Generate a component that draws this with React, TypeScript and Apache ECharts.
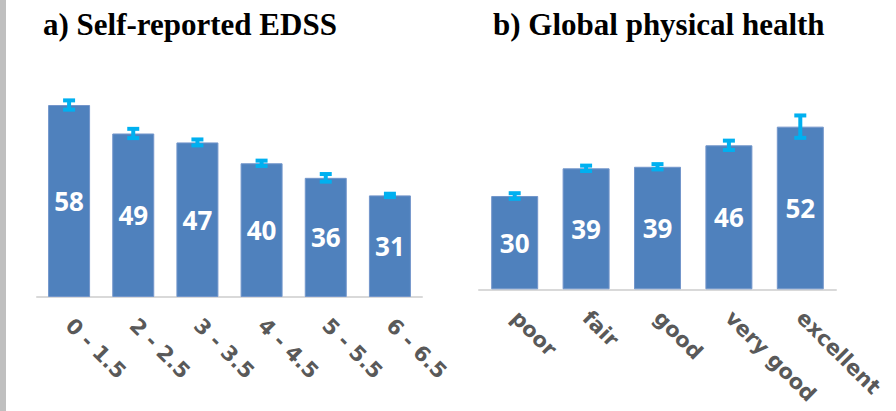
import React, { useEffect, useRef } from "react";
import * as echarts from "echarts";

const edssCategories = ["0 - 1.5", "2 - 2.5", "3 - 3.5", "4 - 4.5", "5 - 5.5", "6 - 6.5"];
const edssValues = [58, 49.4, 46.7, 40.4, 36, 30.7];
const edssErrors = [1.4, 1.4, 0.9, 0.8, 1.15, 0.5];

const healthCategories = ["poor", "fair", "good", "very good", "excellent"];
const healthValues = [30, 38.9, 39.4, 46.3, 52.3];
const healthErrors = [0.9, 0.87, 0.85, 1.5, 3.6];

const titleA = "a) Self-reported EDSS";
const titleB = "b) Global physical health";

const BAR = "#4f81bd";
const ERR = "#00b0f0";

function errorSeries(values: number[], errors: number[], axisIdx: number) {
  return {
    type: "custom",
    xAxisIndex: axisIdx,
    yAxisIndex: axisIdx,
    z: 5,
    silent: true,
    data: values.map((v, i) => [i, v - errors[i], v + errors[i]]),
    renderItem: (params: any, api: any) => {
      const x = api.value(0);
      const lo = api.coord([x, api.value(1)]);
      const hi = api.coord([x, api.value(2)]);
      const cx = lo[0];
      const hw = 6;
      const style = { stroke: ERR, lineWidth: 4, fill: null };
      return {
        type: "group",
        children: [
          { type: "line", shape: { x1: cx, y1: lo[1], x2: cx, y2: hi[1] }, style },
          { type: "line", shape: { x1: cx - hw, y1: lo[1], x2: cx + hw, y2: lo[1] }, style },
          { type: "line", shape: { x1: cx - hw, y1: hi[1], x2: cx + hw, y2: hi[1] }, style },
        ],
      };
    },
  };
}

function barSeries(values: number[], axisIdx: number, width: number) {
  return {
    type: "bar",
    xAxisIndex: axisIdx,
    yAxisIndex: axisIdx,
    barWidth: width,
    data: values,
    itemStyle: { color: BAR, borderColor: "#7396cb", borderWidth: 1 },
    label: {
      show: true,
      position: "inside",
      formatter: (p: any) => String(Math.round(p.value)),
      color: "#ffffff",
      fontFamily: "Open Sans",
      fontWeight: "bold",
      fontSize: 26,
    },
  };
}

function xAxis(cats: string[], gridIndex: number) {
  return {
    type: "category",
    gridIndex,
    data: cats,
    axisTick: { show: false },
    axisLine: { show: true, lineStyle: { color: "#d9d9d9", width: 2 } },
    axisLabel: {
      rotate: -45,
      margin: 25,
      color: "#595959",
      fontFamily: "DejaVu Sans",
      fontWeight: "bold",
      fontSize: 21,
    },
  };
}

function yAxis(gridIndex: number) {
  return {
    type: "value",
    gridIndex,
    min: 0,
    max: 70,
    show: false,
    splitLine: { show: false },
  };
}

export default function App() {
  const ref = useRef<HTMLDivElement>(null);
  useEffect(() => {
    document.body.style.margin = "0";
    if (!ref.current) return;
    const chart = echarts.init(ref.current, null, { renderer: "svg" });
    chart.setOption({
      animation: false,
      backgroundColor: "#ffffff",
      title: [
        {
          text: titleA,
          left: 38,
          top: 4,
          textStyle: { fontFamily: "Liberation Serif", fontWeight: "bold", fontSize: 31, color: "#000" },
        },
        {
          text: titleB,
          left: 488,
          top: 4,
          textStyle: { fontFamily: "Liberation Serif", fontWeight: "bold", fontSize: 31, color: "#000" },
        },
      ],
      graphic: [
        { type: "rect", shape: { x: 0, y: 0, width: 6, height: 411 }, style: { fill: "#bfbfbf" } },
      ],
      grid: [
        { left: 37, width: 385, top: 65.3, height: 231.7 },
        { left: 479, width: 357, top: 71.6, height: 217.7 },
      ],
      xAxis: [xAxis(edssCategories, 0), xAxis(healthCategories, 1)],
      yAxis: [yAxis(0), yAxis(1)],
      series: [
        barSeries(edssValues, 0, 42),
        errorSeries(edssValues, edssErrors, 0),
        barSeries(healthValues, 1, 47),
        errorSeries(healthValues, healthErrors, 1),
      ],
    });
    return () => chart.dispose();
  }, []);
  return <div ref={ref} style={{ width: 896, height: 411 }} />;
}
